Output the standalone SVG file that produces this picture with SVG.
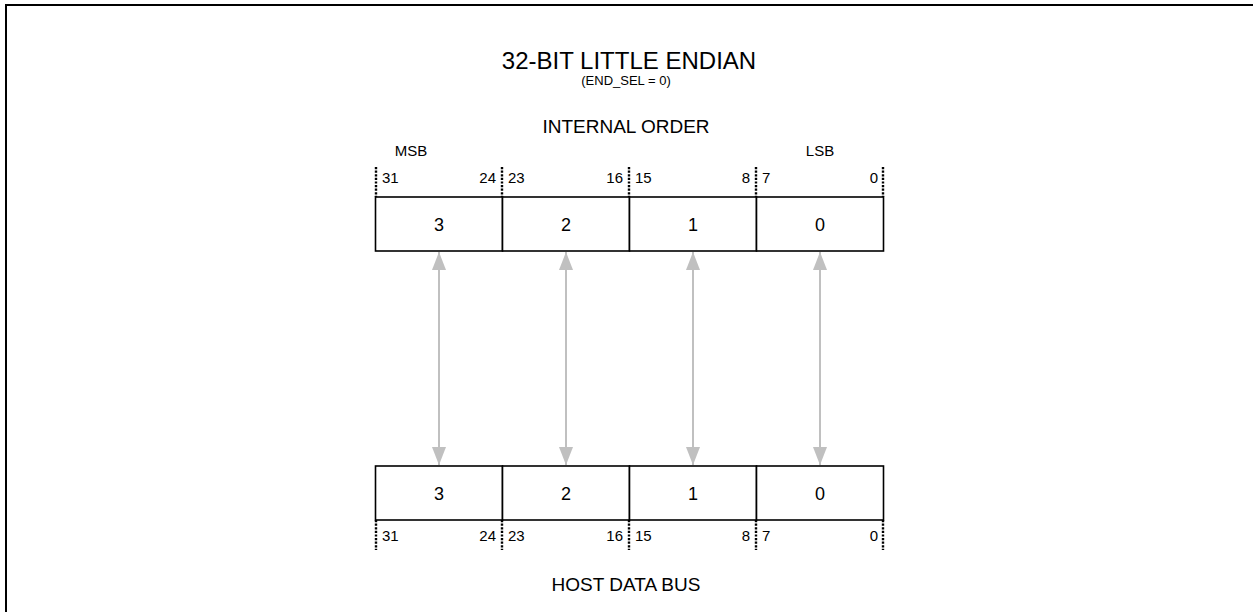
<svg xmlns="http://www.w3.org/2000/svg" width="1253" height="612" viewBox="0 0 1253 612">
<defs>
<style>
text{font-family:"Liberation Sans",Arial,sans-serif;fill:#000}
.cell{fill:#fff;stroke:#000;stroke-width:1.6}
.tick{stroke:#000;stroke-width:2.4;stroke-dasharray:2.2,1.4}
.conn{stroke:#c0c0c0;stroke-width:2;fill:none;marker-start:url(#ah);marker-end:url(#ah)}
.num{font-size:15px}
.dig{font-size:18px;text-anchor:middle}
.mid{text-anchor:middle}
</style>
<marker id="ah" viewBox="0 0 18 14" refX="18" refY="7" markerWidth="18" markerHeight="14" markerUnits="userSpaceOnUse" orient="auto-start-reverse">
<path d="M0,0 L18,7 L0,14 Z" fill="#c0c0c0"/>
</marker>
</defs>
<rect width="1253" height="612" fill="#fff"/>
<path d="M6,620 L6,5 L1260,5" fill="none" stroke="#000" stroke-width="2"/>
<g id="title">
<text class="mid" x="629" y="69" font-size="24">32-BIT LITTLE ENDIAN</text>
<text class="mid" x="626" y="85" font-size="13">(END_SEL = 0)</text>
<text class="mid" x="626" y="133" font-size="19">INTERNAL ORDER</text>
<text class="mid" x="411" y="156" font-size="15">MSB</text>
<text class="mid" x="820" y="156" font-size="15">LSB</text>
</g>
<g id="top-bits">
<line class="tick" x1="376" y1="167" x2="376" y2="197"/>
<line class="tick" x1="502" y1="167" x2="502" y2="197"/>
<line class="tick" x1="629" y1="167" x2="629" y2="197"/>
<line class="tick" x1="756" y1="167" x2="756" y2="197"/>
<line class="tick" x1="883" y1="167" x2="883" y2="197"/>
<text class="num" x="382" y="183">31</text>
<text class="num" x="496" y="183" text-anchor="end">24</text>
<text class="num" x="508" y="183">23</text>
<text class="num" x="623" y="183" text-anchor="end">16</text>
<text class="num" x="635" y="183">15</text>
<text class="num" x="750" y="183" text-anchor="end">8</text>
<text class="num" x="762" y="183">7</text>
<text class="num" x="878" y="183" text-anchor="end">0</text>
</g>
<g id="internal-order">
<rect class="cell" x="375.5" y="197" width="127" height="54"/>
<rect class="cell" x="502.5" y="197" width="127" height="54"/>
<rect class="cell" x="629.5" y="197" width="127" height="54"/>
<rect class="cell" x="756.5" y="197" width="127" height="54"/>
<text class="dig" x="439" y="231">3</text>
<text class="dig" x="566" y="231">2</text>
<text class="dig" x="693" y="231">1</text>
<text class="dig" x="820" y="231">0</text>
</g>
<g id="connectors">
<line class="conn" x1="439" y1="252" x2="439" y2="465"/>
<line class="conn" x1="566" y1="252" x2="566" y2="465"/>
<line class="conn" x1="693" y1="252" x2="693" y2="465"/>
<line class="conn" x1="820" y1="252" x2="820" y2="465"/>
</g>
<g id="host-data-bus">
<rect class="cell" x="375.5" y="466" width="127" height="54"/>
<rect class="cell" x="502.5" y="466" width="127" height="54"/>
<rect class="cell" x="629.5" y="466" width="127" height="54"/>
<rect class="cell" x="756.5" y="466" width="127" height="54"/>
<text class="dig" x="439" y="500">3</text>
<text class="dig" x="566" y="500">2</text>
<text class="dig" x="693" y="500">1</text>
<text class="dig" x="820" y="500">0</text>
</g>
<g id="bottom-bits">
<line class="tick" x1="376" y1="520" x2="376" y2="550"/>
<line class="tick" x1="502" y1="520" x2="502" y2="550"/>
<line class="tick" x1="629" y1="520" x2="629" y2="550"/>
<line class="tick" x1="756" y1="520" x2="756" y2="550"/>
<line class="tick" x1="883" y1="520" x2="883" y2="550"/>
<text class="num" x="382" y="541">31</text>
<text class="num" x="496" y="541" text-anchor="end">24</text>
<text class="num" x="508" y="541">23</text>
<text class="num" x="623" y="541" text-anchor="end">16</text>
<text class="num" x="635" y="541">15</text>
<text class="num" x="750" y="541" text-anchor="end">8</text>
<text class="num" x="762" y="541">7</text>
<text class="num" x="878" y="541" text-anchor="end">0</text>
<text class="mid" x="626" y="591" font-size="19">HOST DATA BUS</text>
</g>
</svg>
